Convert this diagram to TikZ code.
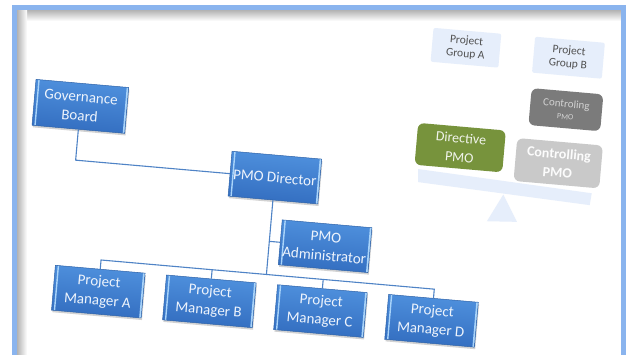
\documentclass[tikz,border=0pt]{standalone}
\usepackage{fontspec}
\setmainfont{Carlito}
\usepackage{tikz}
\usetikzlibrary{positioning, shadows}

\definecolor{FrameBlue}{HTML}{8AB4EE}
\definecolor{BoxTop}{HTML}{4D8EDB}
\definecolor{BoxBot}{HTML}{3570C2}
\definecolor{BoxEdge}{HTML}{2D62A8}
\definecolor{BoxHi}{HTML}{A9D4FA}
\definecolor{BoxText}{HTML}{EEF4FC}
\definecolor{LineBlue}{HTML}{4F83C6}
\definecolor{PaleBlue}{HTML}{E6EEFB}
\definecolor{GroupText}{HTML}{505050}
\definecolor{DirGreen}{HTML}{77933C}
\definecolor{CtrlDark}{HTML}{7B7B7B}
\definecolor{CtrlLight}{HTML}{C9C9C9}

\begin{document}
\begin{tikzpicture}[
  x=1pt, y=-1pt,
  orgbox/.style={draw=BoxEdge, line width=0.5pt, top color=BoxTop, bottom color=BoxBot,
    minimum width=90pt, minimum height=45pt, inner sep=0pt, align=center,
    text=BoxText, font=\fontsize{15}{19}\selectfont,
    drop shadow={shadow xshift=1pt, shadow yshift=-2pt, opacity=0.35},
    path picture={
      \draw[BoxHi, line width=1.4pt] ([xshift=3pt]path picture bounding box.north west)
        -- ([xshift=3pt]path picture bounding box.south west);
      \draw[BoxHi, line width=2pt] ([xshift=-1pt]path picture bounding box.north east)
        -- ([xshift=-1pt]path picture bounding box.south east);
    }},
  orgline/.style={draw=LineBlue, line width=1.1pt},
  pmobox/.style={rounded corners=6pt, minimum width=88pt, minimum height=42pt,
    inner sep=0pt, align=center},
  grpbox/.style={fill=PaleBlue, rounded corners=2pt, minimum width=68pt, minimum height=34pt,
    inner sep=0pt, align=center, text=GroupText, font=\fontsize{11.5}{13.5}\selectfont},
]
\useasboundingbox (0,0) rectangle (628,355);

% --- Frame ---
\fill[white] (0,0) rectangle (628,355);
\shade[top color=gray!60, bottom color=white] (17,10) rectangle (621,21);
\shade[left color=gray!60, right color=white] (17,10) rectangle (27,355);
\draw[FrameBlue, line width=5pt] (14.5,360) -- (14.5,7.5) -- (623,7.5) -- (623,360);

\begin{scope}[transform canvas={rotate around={-5:(314,178)}}]

% --- Org chart ---
\node[orgbox, minimum width=93pt, minimum height=46pt] (gov) at (75,127) {Governance\\Board};
\node[orgbox] (pmodir) at (275,181) {PMO Director};
\node[orgbox] (pmoadm) at (331,245) {PMO\\Administrator};
\node[orgbox] (pmA) at (109,310) {Project\\Manager A};
\node[orgbox, right=21pt of pmA] (pmB) {Project\\Manager B};
\node[orgbox, right=21pt of pmB] (pmC) {Project\\Manager C};
\node[orgbox, right=21pt of pmC] (pmD) {Project\\Manager D};

\coordinate (bus) at ([yshift=9pt]pmA.north -| pmodir.south);
\draw[orgline] (gov.south) |- (pmodir.west);
\draw[orgline] (pmodir.south) -- (bus);
\draw[orgline] (pmoadm.west) -- (pmoadm.west -| bus);
\draw[orgline] (pmA.north) |- (pmD.north |- bus) -- (pmD.north);
\foreach \m in {pmB, pmC} \draw[orgline] (\m.north) -- (\m.north |- bus);

% --- Balance ---
\fill[PaleBlue] (417,160) -- (592,169) -- (591,181) -- (418,173) -- cycle;
\fill[PaleBlue] (504,178) -- (520,204) -- (490,206) -- cycle;

\node[pmobox, fill=DirGreen, text=white!90!DirGreen, font=\fontsize{14}{19}\selectfont]
  (directive) at (457,135) {Directive\\PMO};
\node[pmobox, fill=CtrlLight, text=white!95!CtrlLight, minimum width=86pt, minimum height=43pt,
  font=\fontsize{14}{19}\selectfont\bfseries] (ctrllight) at (556,142) {Controlling\\PMO};
\node[pmobox, fill=CtrlDark, text=gray!35, minimum width=72pt, minimum height=37pt,
  font=\fontsize{11}{12}\selectfont] (ctrldark) at (559,88) {Controling\\{\fontsize{8}{10}\selectfont PMO}};

% --- Project groups ---
\node[grpbox] (grpA) at (454,35) {Project\\Group A};
\node[grpbox, minimum width=70pt, minimum height=36pt] (grpB) at (557,36) {Project\\Group B};

\end{scope}

\end{tikzpicture}
\end{document}
